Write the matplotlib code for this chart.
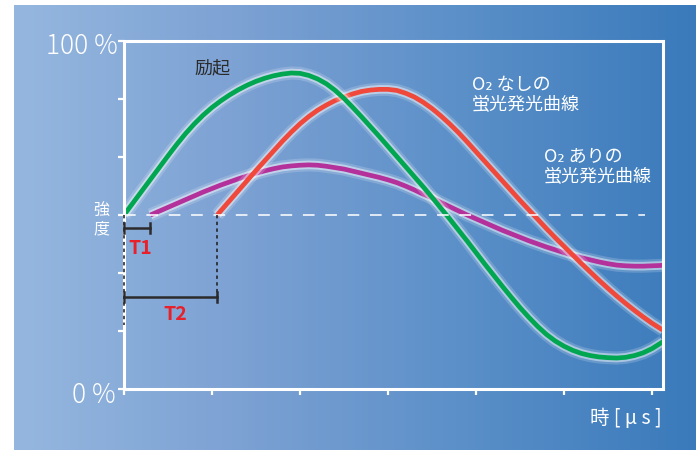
import numpy as np
import matplotlib.pyplot as plt
import matplotlib.patheffects as pe
from matplotlib.colors import LinearSegmentedColormap

plt.rcParams['font.family'] = ['Noto Sans CJK JP', 'DejaVu Sans']

# time in tick units (ticks at 0..6), intensity in %
t = [0.0, 0.1, 0.2, 0.3, 0.4, 0.5, 0.6, 0.7, 0.8, 0.9, 1.0, 1.1, 1.2, 1.3, 1.4, 1.5,
     1.6, 1.7, 1.8, 1.9, 2.0, 2.1, 2.2, 2.3, 2.4, 2.5, 2.6, 2.7, 2.8, 2.9, 3.0, 3.1,
     3.2, 3.3, 3.4, 3.5, 3.6, 3.7, 3.8, 3.9, 4.0, 4.1, 4.2, 4.3, 4.4, 4.5, 4.6, 4.7,
     4.8, 4.9, 5.0, 5.1, 5.2, 5.3, 5.4, 5.5, 5.6, 5.7, 5.8, 5.9, 6.0, 6.1, 6.125]

# excitation
green_x = t
green_y = [50.0, 53.4, 56.8, 60.2, 63.6, 67.0, 70.3, 73.4, 76.2, 78.7, 80.9, 82.8, 84.5,
           86.0, 87.3, 88.4, 89.3, 90.0, 90.5, 90.8, 90.7, 90.1, 89.1, 87.7, 85.8, 83.5,
           80.9, 78.2, 75.4, 72.6, 69.7, 66.8, 63.9, 61.0, 58.1, 55.1, 52.0, 48.9, 45.7,
           42.5, 39.2, 35.9, 32.7, 29.5, 26.4, 23.4, 20.6, 18.0, 15.7, 13.8, 12.3, 11.1,
           10.2, 9.6, 9.2, 9.0, 8.9, 9.1, 9.6, 10.4, 11.6, 13.2, 13.6]

# fluorescence without O2
red_x = [1.06] + t[11:]
red_y = [50.0, 51.2, 54.1, 57.0, 59.9, 62.8, 65.6, 68.4, 71.2, 73.8, 76.2, 78.3, 80.1,
         81.6, 82.9, 83.9, 84.8, 85.5, 85.9, 86.1, 86.1, 85.8, 85.0, 83.9, 82.4, 80.6,
         78.5, 76.2, 73.7, 71.0, 68.2, 65.4, 62.6, 59.8, 57.0, 54.2, 51.5, 48.8, 46.1,
         43.5, 41.0, 38.5, 36.0, 33.6, 31.2, 28.9, 26.7, 24.6, 22.6, 20.7, 18.9, 17.3, 16.9]

# fluorescence with O2
magenta_x = t[3:]
magenta_y = [50.0, 51.1, 52.2, 53.3, 54.4, 55.5, 56.6, 57.6, 58.6, 59.5, 60.4, 61.2, 62.0,
             62.7, 63.3, 63.8, 64.1, 64.3, 64.4, 64.3, 64.0, 63.6, 63.2, 62.6, 62.0, 61.4,
             60.8, 60.1, 59.3, 58.3, 57.2, 56.0, 54.9, 53.6, 52.4, 51.2, 50.0, 48.9, 47.8,
             46.7, 45.6, 44.6, 43.6, 42.6, 41.7, 40.8, 40.0, 39.2, 38.4, 37.7, 37.1, 36.5,
             36.0, 35.6, 35.4, 35.3, 35.3, 35.4, 35.5, 35.6]

baseline = 50.0
t1_end = magenta_x[0]
t2_end = red_x[0]
t1_level = 46.3
t2_level = 26.4
guide_bottom = 18.4

W, H = 696, 450
fig = plt.figure(figsize=(W / 100, H / 100), dpi=100)


def fx(x):
    return x / W


def fy(y):
    return 1 - y / H


# gradient panel behind everything
bg = fig.add_axes([fx(14), 0, 1 - fx(14), fy(5)])
cmap = LinearSegmentedColormap.from_list('bg', ['#95b7df', '#7ca1d3', '#5a8fc8', '#3a7abb'])
bg.imshow(np.linspace(0, 1, 256)[None, :], aspect='auto', cmap=cmap, extent=[0, 1, 0, 1])
bg.axis('off')

ax = fig.add_axes([fx(124), fy(389), (663 - 124) / W, (389 - 41) / H])
ax.set_facecolor('none')
ax.set_xlim(0, 6.125)
ax.set_ylim(0, 100)

glow = [pe.Stroke(linewidth=9.5, foreground='white', alpha=0.18),
        pe.Stroke(linewidth=6.2, foreground='white', alpha=0.45),
        pe.Normal()]
ax.plot(magenta_x, magenta_y, color='#b4309a', lw=3.4, solid_capstyle='butt',
        solid_joinstyle='round', path_effects=glow)
ax.plot(red_x, red_y, color='#f0483a', lw=3.4, solid_capstyle='butt',
        solid_joinstyle='round', path_effects=glow)
ax.plot(green_x, green_y, color='#00a650', lw=3.4, solid_capstyle='butt',
        solid_joinstyle='round', path_effects=glow)

# 50% baseline
ax.plot([0, 5.92], [baseline, baseline], color='white', alpha=0.8, lw=1.4, dashes=(6, 5.5))

# T1 / T2 markers
ax.plot([0, 0], [baseline, guide_bottom], color='#1a1a1a', lw=1.1, dashes=(2.2, 2.2),
        zorder=5, clip_on=False)
ax.plot([t2_end, t2_end], [baseline, t2_level], color='#1a1a1a', lw=1.1, dashes=(2.2, 2.2))
for end, lev in [(t1_end, t1_level), (t2_end, t2_level)]:
    ax.plot([0, end], [lev, lev], color='#2b2b2b', lw=1.8, zorder=5, clip_on=False)
    ax.plot([0, 0], [lev - 1.5, lev + 1.5], color='#2b2b2b', lw=1.8, zorder=5, clip_on=False)
    ax.plot([end, end], [lev - 1.5, lev + 1.5], color='#2b2b2b', lw=1.8, zorder=5)
ax.text(0.18, 40.3, 'T1', color='#e8202a', fontsize=14, fontweight='bold', ha='center', va='center')
ax.text(0.58, 21.3, 'T2', color='#e8202a', fontsize=14, fontweight='bold', ha='center', va='center')

ax.text(1.01, 92.2, '励起', color='#2a2a2a', fontsize=13, ha='center', va='center')
ax.text(3.95, 84.6, 'O₂ なしの\n蛍光発光曲線', color='white', fontsize=13, ha='left', va='center',
        linespacing=1.15)
ax.text(4.77, 63.8, 'O₂ ありの\n蛍光発光曲線', color='white', fontsize=13, ha='left', va='center',
        linespacing=1.15)

for s in ax.spines.values():
    s.set_color('white')
    s.set_linewidth(2.2)
ax.set_xticks(range(7))
ax.set_yticks(np.linspace(0, 100, 7))
ax.tick_params(direction='out', colors='white', length=4, width=1.6,
               labelbottom=False, labelleft=False)

fig.text(fx(118), fy(46), '100 %', color='white', fontsize=19, fontweight='light',
         ha='right', va='center')
fig.text(fx(116), fy(395), '0 %', color='white', fontsize=19, fontweight='light',
         ha='right', va='center')
fig.text(fx(101), fy(220), '強\n度', color='white', fontsize=11.5, ha='center', va='center',
         linespacing=1.05)
fig.text(fx(662), fy(418), '時 [ μ s ]', color='white', fontsize=14, ha='right', va='center')

fig.savefig('out.png', dpi=100)
